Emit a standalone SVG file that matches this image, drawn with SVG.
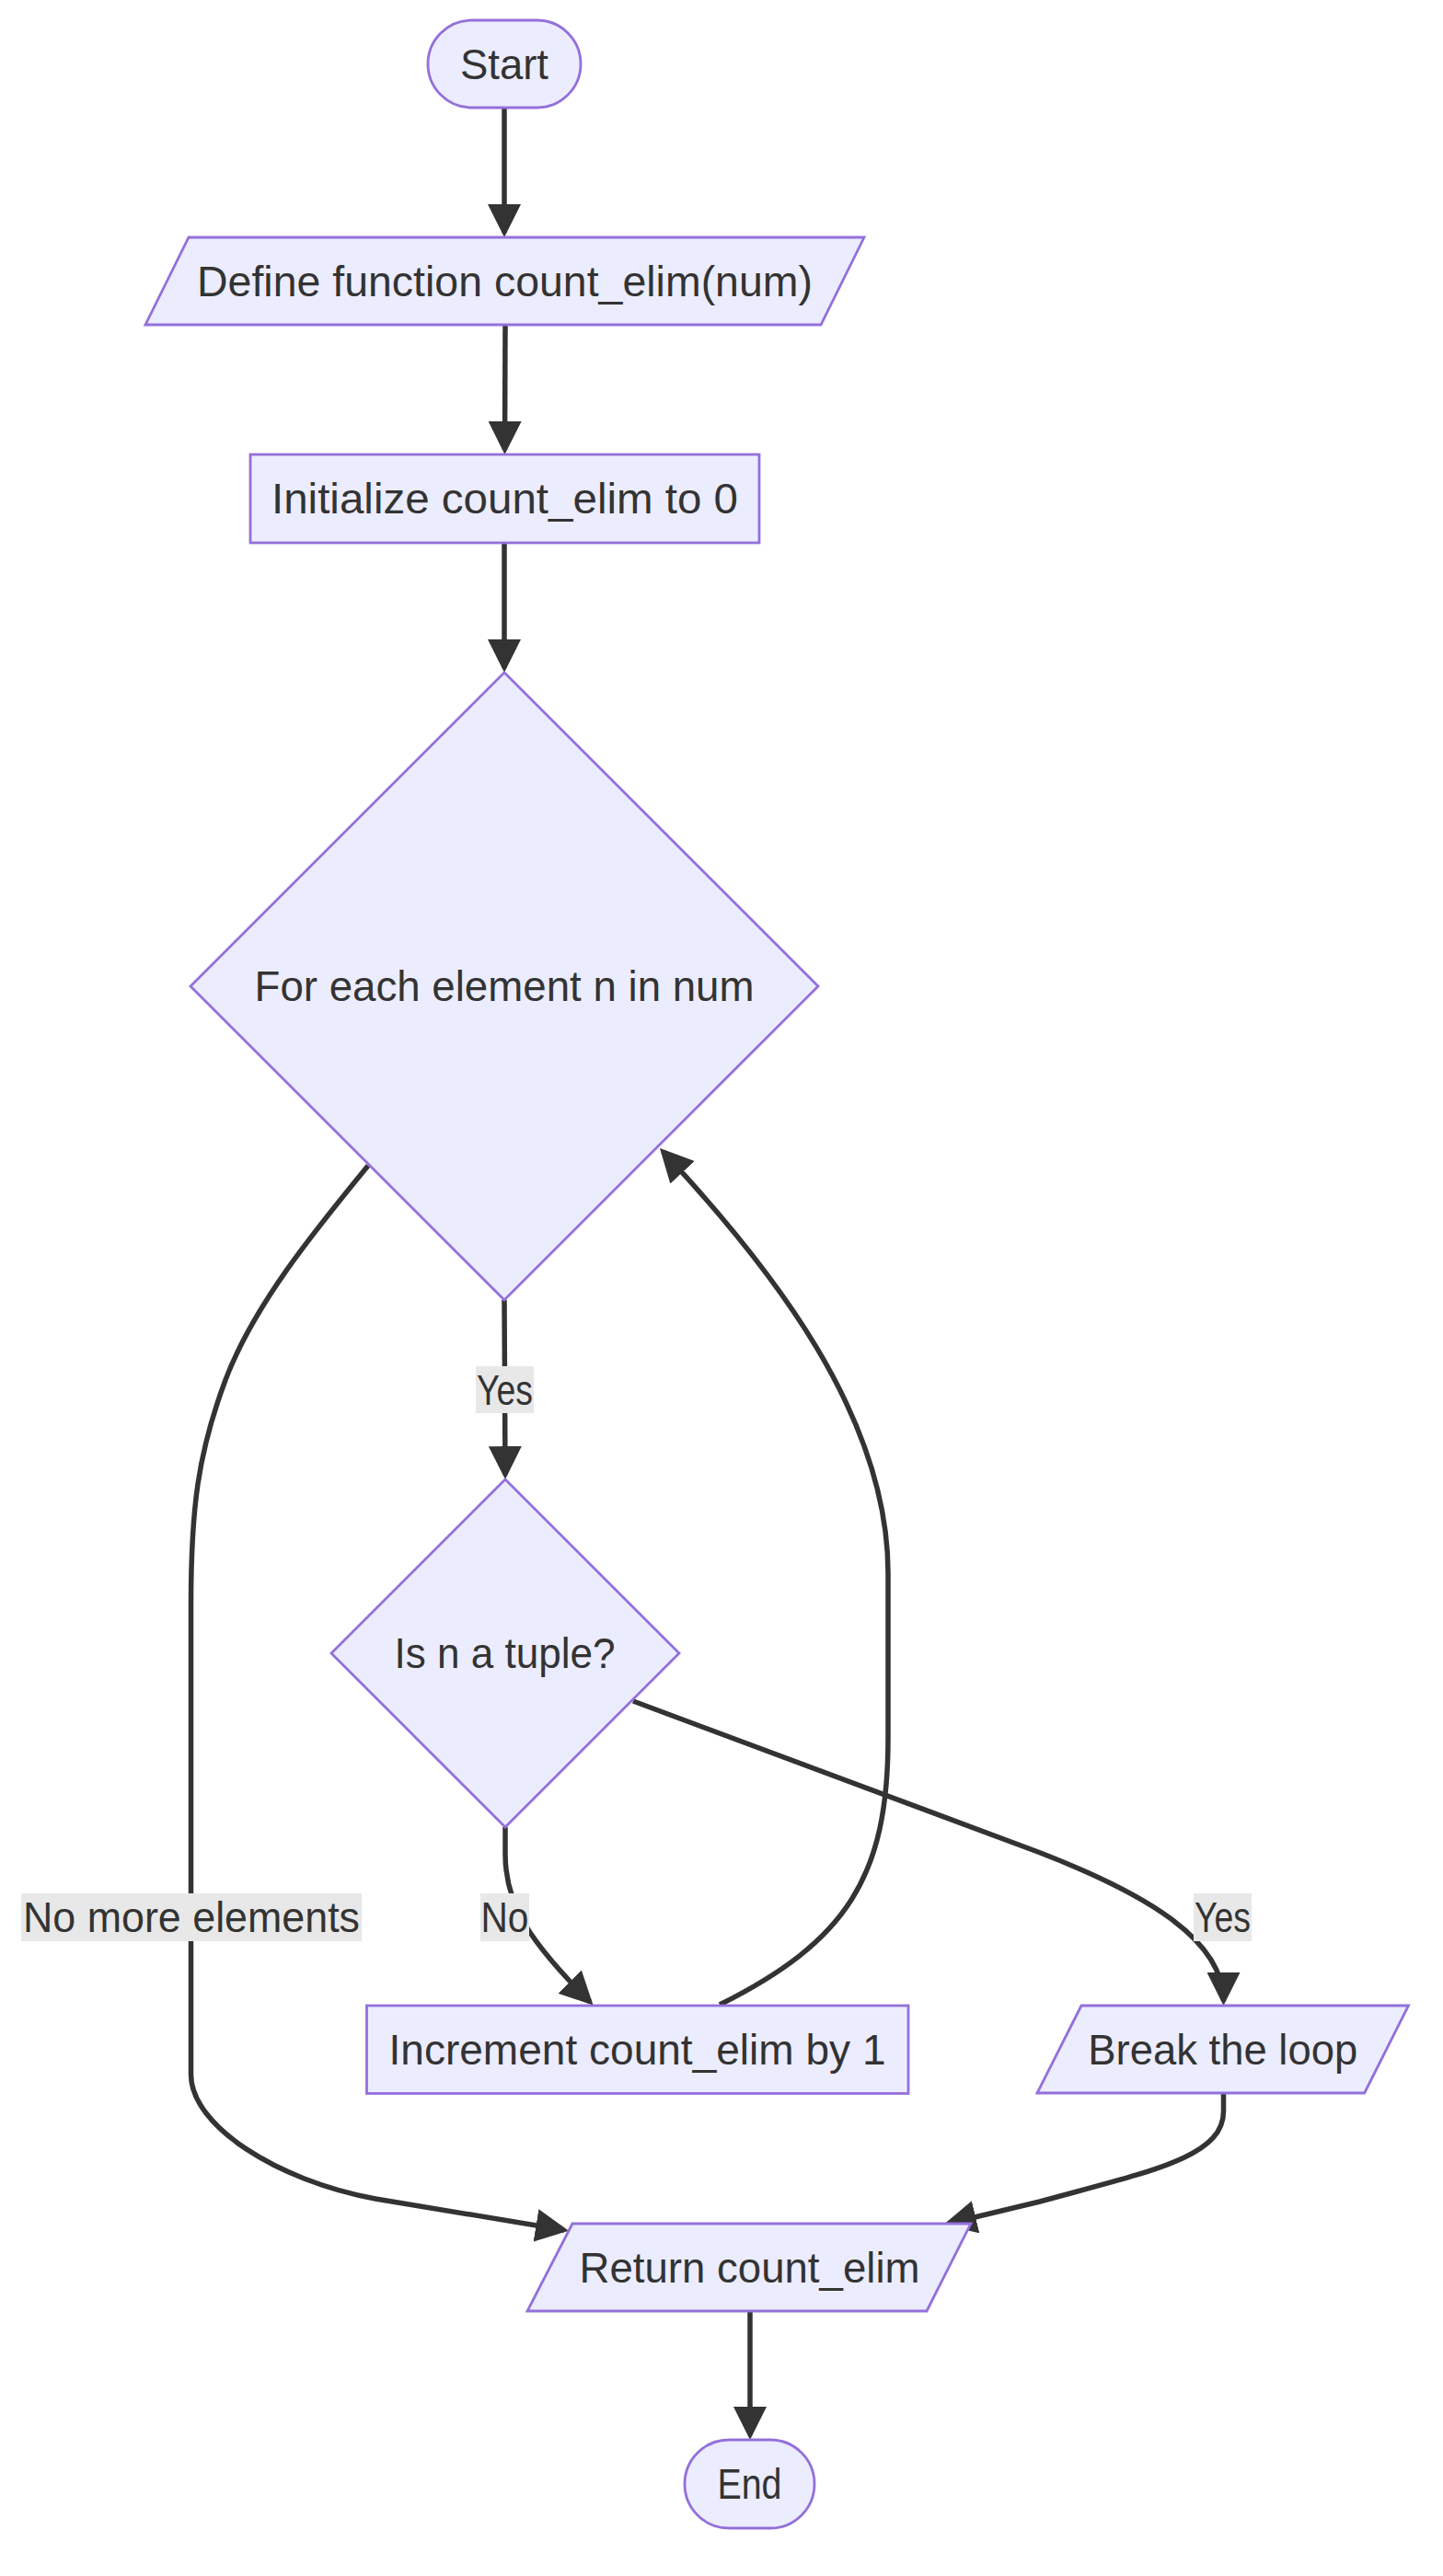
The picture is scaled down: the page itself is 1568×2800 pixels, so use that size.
<svg xmlns="http://www.w3.org/2000/svg" width="1568" height="2800" viewBox="0 0 1568 2800">
<style>
.node{fill:#ECECFF;stroke:#9370DB;stroke-width:2.8}
.edge{fill:none;stroke:#333333;stroke-width:5.5}
.lbl{fill:#333333;font-family:"Liberation Sans",Arial,sans-serif;font-size:46px;text-anchor:middle}
.lblbg{fill:#e8e8e8}
</style>
<defs>
<marker id="arrow" viewBox="0 0 10 10" refX="8.6" refY="5" markerWidth="36" markerHeight="36" markerUnits="userSpaceOnUse" orient="auto">
<path d="M0,0 L10,5 L0,10 z" fill="#333333"/>
</marker>
</defs>
<rect width="1568" height="2800" fill="#ffffff"/>
<g id="connectors">
<path class="edge" marker-end="url(#arrow)" d="M548,117 L548,253"/>
<path class="edge" marker-end="url(#arrow)" d="M549,353 L548.5,489"/>
<path class="edge" marker-end="url(#arrow)" d="M548,590 L548,726"/>
<path class="edge" marker-end="url(#arrow)" d="M548,1413 L549,1603"/>
<path class="edge" marker-end="url(#arrow)" d="M549,1986 L549,2015 C549,2070 575,2110 641,2176"/>
<path class="edge" marker-end="url(#arrow)" d="M688,1849 L1128,2013 C1250,2060 1329.5,2110 1329.5,2175"/>
<path class="edge" marker-end="url(#arrow)" d="M400,1267 C340,1340 275,1420 245,1500 C215,1580 207.5,1640 207.5,1745 L207.5,2255 C207.5,2310 300,2370 408,2390 L613,2424"/>
<path class="edge" marker-end="url(#arrow)" d="M782,2179 C920,2110 965,2040 965,1889 L965,1710 C965,1540 840,1380 720.4,1251.7"/>
<path class="edge" marker-end="url(#arrow)" d="M1329.5,2275 L1329.5,2295 C1329.5,2345 1250,2360 1130,2393 L1030,2417"/>
<path class="edge" marker-end="url(#arrow)" d="M815,2512 L815,2647"/>
<g id="label-yes1"><rect class="lblbg" x="517" y="1485" width="63" height="51"/><text class="lbl" x="548.5" y="1526.5" textLength="61" lengthAdjust="spacingAndGlyphs">Yes</text></g>
<g id="label-nomore"><rect class="lblbg" x="23" y="2058" width="370" height="52"/><text class="lbl" x="208" y="2100" textLength="366" lengthAdjust="spacingAndGlyphs">No more elements</text></g>
<g id="label-no"><rect class="lblbg" x="522" y="2058" width="53" height="52"/><text class="lbl" x="548.5" y="2100" textLength="52" lengthAdjust="spacingAndGlyphs">No</text></g>
<g id="label-yes2"><rect class="lblbg" x="1297" y="2058" width="63" height="52"/><text class="lbl" x="1328.5" y="2100" textLength="61" lengthAdjust="spacingAndGlyphs">Yes</text></g>
</g>
<g id="start"><rect class="node" x="465" y="22" width="166" height="95" rx="47.5" ry="47.5"/><text class="lbl" x="548" y="85.5" textLength="96" lengthAdjust="spacingAndGlyphs">Start</text></g>
<g id="define"><polygon class="node" points="205,258 939,258 892,353 158,353"/><text class="lbl" x="548.5" y="321.5" textLength="669" lengthAdjust="spacingAndGlyphs">Define function count_elim(num)</text></g>
<g id="init"><rect class="node" x="272" y="494" width="553" height="96"/><text class="lbl" x="548.5" y="558" textLength="507" lengthAdjust="spacingAndGlyphs">Initialize count_elim to 0</text></g>
<g id="foreach"><polygon class="node" points="548,731 889,1072 548,1413 207,1072"/><text class="lbl" x="548" y="1088" textLength="543" lengthAdjust="spacingAndGlyphs">For each element n in num</text></g>
<g id="istuple"><polygon class="node" points="549,1608 738,1797 549,1986 360,1797"/><text class="lbl" x="548.5" y="1813" textLength="240" lengthAdjust="spacingAndGlyphs">Is n a tuple?</text></g>
<g id="increment"><rect class="node" x="398.5" y="2180" width="588.5" height="95.5"/><text class="lbl" x="692.5" y="2244" textLength="540" lengthAdjust="spacingAndGlyphs">Increment count_elim by 1</text></g>
<g id="break"><polygon class="node" points="1175,2180 1530.5,2180 1482.7,2275 1127,2275"/><text class="lbl" x="1328.75" y="2243.5" textLength="293" lengthAdjust="spacingAndGlyphs">Break the loop</text></g>
<g id="return"><polygon class="node" points="622,2417 1055,2417 1007,2512 573,2512"/><text class="lbl" x="814.5" y="2480.5" textLength="370" lengthAdjust="spacingAndGlyphs">Return count_elim</text></g>
<g id="end"><rect class="node" x="744" y="2652" width="141" height="96" rx="48" ry="48"/><text class="lbl" x="814.5" y="2716" textLength="70" lengthAdjust="spacingAndGlyphs">End</text></g>
</svg>
